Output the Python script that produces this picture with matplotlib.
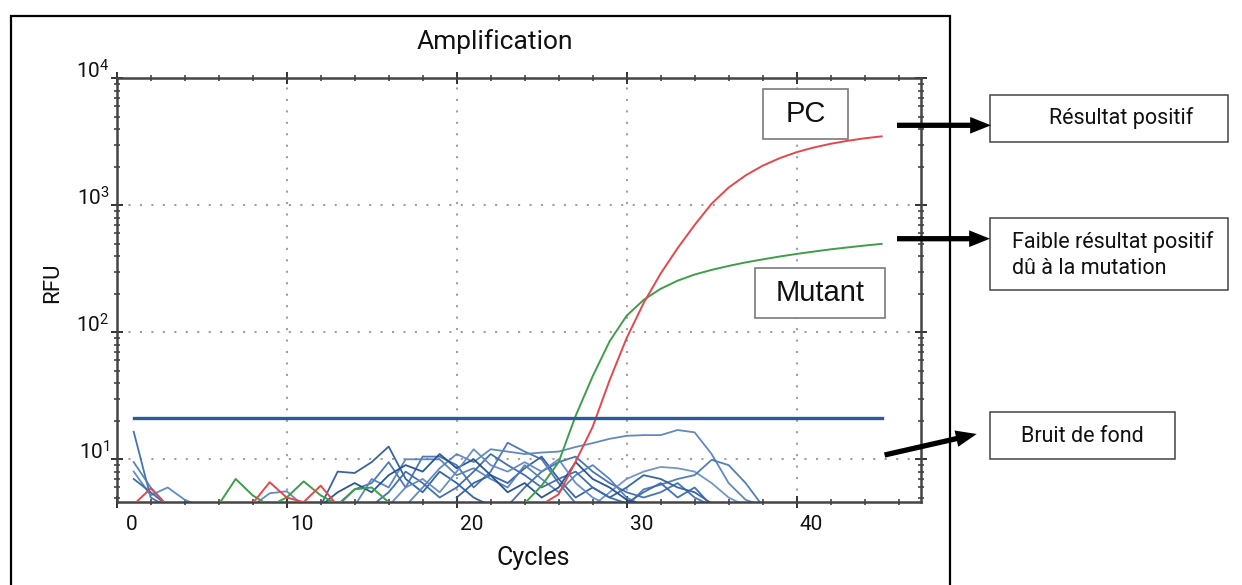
import matplotlib
matplotlib.use('Agg')
import matplotlib.pyplot as plt
from matplotlib.patches import Rectangle, FancyArrowPatch
from matplotlib.transforms import ScaledTranslation
from matplotlib.ticker import NullFormatter
import numpy as np

plt.rcParams['font.family'] = ['Roboto', 'DejaVu Sans']
plt.rcParams['text.color'] = '#111111'

# ---------------- data ----------------
cycles = list(range(1, 46))

pc_rfu = [4.4, 5.9, 4.3, 4.2, 4.2, 4.2, 4.2, 4.5, 6.6, 5.0,
          4.6, 6.2, 4.3, 4.2, 4.2, 4.2, 4.2, 4.2, 4.2, 4.2,
          4.2, 4.2, 4.2, 4.2, 4.4, 5.3, 9.6, 18, 42, 90,
          170, 290, 460, 700, 1030, 1380, 1720, 2050, 2350, 2620,
          2850, 3050, 3220, 3370, 3490]

mutant_rfu = [4.2, 4.2, 4.2, 4.2, 4.2, 4.4, 7.0, 5.2, 4.3, 5.0,
              6.7, 5.2, 4.4, 5.8, 6.0, 4.6, 4.2, 4.2, 4.2, 4.2,
              4.2, 4.2, 4.0, 4.5, 6.2, 9.5, 22, 45, 85, 135,
              180, 220, 255, 285, 310, 333, 355, 375, 395, 414,
              432, 450, 466, 482, 497]

threshold_rfu = 21.0
threshold_cycles = [1, 45]

# background noise traces: (first cycle, values)
noise_starts = [1, 1, 1, 1, 8, 12, 13, 17, 23, 28, 30, 20, 14, 15, 12, 16]
noise_values = [
    [16.5, 5.0, 4.2],
    [9.5, 6.0, 4.3, 4.2],
    [8.0, 5.2, 6.0, 4.8, 4.2],
    [7.0, 5.5, 4.3],
    [4.3, 5.4, 5.6, 4.3],
    [4.3, 8.0, 7.8, 9.5, 12.6, 7.0, 5.5, 8.0, 6.5, 5.0, 4.3],
    [4.3, 5.8, 6.5, 9.5, 6.0, 10.5, 10.5, 9.0, 6.0, 8.0, 13.5, 11.5, 10.0, 6.5, 4.5],
    [4.3, 6.0, 8.5, 11.0, 9.5, 12.0, 11.5, 11.0, 11.3, 11.5, 12.5, 13.4, 14.5, 15.3,
     15.5, 15.5, 17.0, 16.3, 11.0, 6.5, 4.8, 4.3],
    [4.3, 6.0, 8.0, 9.5, 10.5, 8.0, 6.5, 5.5, 5.0, 5.5, 6.5, 5.0, 4.3],
    [4.3, 5.5, 7.0, 8.0, 8.7, 8.5, 8.0, 6.5, 5.0, 4.3],
    [4.3, 5.8, 6.3, 7.0, 7.5, 9.9, 9.0, 6.5, 4.3],
    [5.0, 6.5, 7.5, 6.5, 8.5, 10.5, 7.0, 5.0, 6.0, 5.0, 6.0, 7.5, 7.0, 6.0, 5.5, 4.5],
    [4.3, 7.0, 6.0, 10.0, 10.0, 10.0, 7.5, 8.5, 7.0, 6.0, 9.0, 7.0, 5.5, 7.5, 9.0,
     7.0, 5.0, 4.3],
    [4.3, 5.5, 8.0, 6.5, 5.0, 6.0, 8.0, 11.0, 9.0, 7.5, 6.0, 7.0, 8.0, 6.0, 5.0,
     4.5, 5.5, 6.5, 5.0, 6.0, 4.3],
    [4.3, 5.5, 6.5, 5.5, 7.5, 9.0, 8.0, 11.0, 8.5, 10.0, 7.5, 5.5, 6.5, 5.0, 6.0,
     9.5, 7.0, 6.0, 4.8, 4.3],
    [4.3, 6.0, 7.0, 5.5, 8.0, 12.0, 9.0, 8.0, 9.5, 8.0, 10.0, 6.5, 5.0, 4.3],
]
noise_colors = ['#3c6cae', '#4f7dbb', '#5a86c0', '#3a68a8', '#5b86c0',
                '#2d5c9c', '#4573b2', '#5a83bb', '#3e6daf', '#6a90c6',
                '#4a78b6', '#2f5e9e', '#5580bb', '#3b69aa', '#1f4f8f', '#6189c2']

x_major = [0, 10, 20, 30, 40]
y_major = [10, 100, 1000, 10000]
y_labels = [r'$\mathregular{10^{1}}$', r'$\mathregular{10^{2}}$',
            r'$\mathregular{10^{3}}$', r'$\mathregular{10^{4}}$']

# ---------------- figure ----------------
W, H = 1242, 585
fig = plt.figure(figsize=(W / 100, H / 100), dpi=100)
ax = fig.add_axes([116.7 / W, 82.7 / H, 804 / W, 424 / H])

for s, vals, col in zip(noise_starts, noise_values, noise_colors):
    xs = list(range(s, s + len(vals)))
    ax.plot(xs, vals, color=col, lw=1.3, alpha=0.95, zorder=2)

ax.plot(cycles, mutant_rfu, color='#3e9e4a', lw=1.4, zorder=3)
ax.plot(cycles, pc_rfu, color='#e5474d', lw=1.4, zorder=3)
ax.plot(threshold_cycles, [threshold_rfu, threshold_rfu], color='#2a5b9c', lw=2.4, zorder=4)

ax.set_yscale('log')
ax.set_xlim(0, 47.3)
ax.set_ylim(4.585, 1e4)
ax.set_xticks(x_major)
ax.set_xticks(np.arange(0, 47, 2), minor=True)
ax.set_yticks(y_major)
ax.set_yticklabels(y_labels)
ax.yaxis.set_minor_formatter(NullFormatter())

ax.grid(which='major', linestyle=(0, (1, 4.5)), color='#a0a0a0', lw=1.5)
for sp in ax.spines.values():
    sp.set_color('#444444')
    sp.set_linewidth(1.8)

ax.tick_params(axis='both', which='major', direction='inout', length=9, width=1.4,
               color='#333333', labelsize=15, labelcolor='#111111', top=True, right=True)
ax.tick_params(axis='both', which='minor', direction='inout', length=5, width=1.1,
               color='#333333', top=True, right=True)
ax.tick_params(axis='x', which='major', pad=5)
ax.tick_params(axis='y', which='major', pad=0.5)

offset = ScaledTranslation(0.15, 0, fig.dpi_scale_trans)
for lab in ax.get_xticklabels():
    lab.set_transform(lab.get_transform() + offset)
for lab in ax.get_yticklabels():
    lab.set_verticalalignment('baseline')

# labels inside the plot
def axbox(x0, x1, y0, y1, text):
    ax.add_patch(Rectangle((x0, y0), x1 - x0, y1 - y0, transform=ax.transAxes,
                           fill=True, facecolor='white', edgecolor='#7a7a7a', lw=1.2, zorder=5))
    ax.text((x0 + x1) / 2, (y0 + y1) / 2, text, transform=ax.transAxes, ha='center',
            va='center', fontsize=21, family=['Liberation Sans'],
            color='#111111', zorder=6)

axbox(0.8038, 0.9096, 0.8568, 0.9748, 'PC')
axbox(0.7939, 0.9556, 0.4340, 0.5519, 'Mutant')

# titles
fig.text(494.5 / W, (H - 49.3) / H, 'Amplification', ha='center', va='baseline', fontsize=19)
fig.text(533.5 / W, (H - 565) / H, 'Cycles', ha='center', va='baseline', fontsize=18)
fig.text(52.5 / W, (H - 283) / H, 'RFU', ha='center', va='center', rotation=90, fontsize=16)

# outer frame
fig.patches.append(Rectangle((10.7 / W, -0.05), (950 - 10.7) / W, (H - 16) / H + 0.05,
                             transform=fig.transFigure, fill=False, edgecolor='black', lw=1.6))

# right-hand boxes
def figbox(x0, x1, ytop, ybot):
    fig.patches.append(Rectangle((x0 / W, (H - ybot) / H), (x1 - x0) / W, (ybot - ytop) / H,
                                 transform=fig.transFigure, fill=False, edgecolor='#444444', lw=1.1))

figbox(990, 1228, 95, 142)
fig.text(1121 / W, (H - 118) / H, 'Résultat positif', ha='center', va='center', fontsize=15.5)
figbox(990, 1228, 217.7, 290)
fig.text(1011.7 / W, (H - 241.7) / H, 'Faible résultat positif', ha='left', va='center', fontsize=15.5)
fig.text(1011.7 / W, (H - 268.3) / H, 'dû à la mutation', ha='left', va='center', fontsize=15.5)
figbox(990, 1174.5, 411.7, 459)
fig.text(1082 / W, (H - 436.7) / H, 'Bruit de fond', ha='center', va='center', fontsize=15.5)

# arrows
def arrow(x0, y0, x1, y1):
    fig.patches.append(FancyArrowPatch((x0 / W, (H - y0) / H), (x1 / W, (H - y1) / H),
                                       transform=fig.transFigure,
                                       arrowstyle='simple,head_length=15,head_width=12,tail_width=3.8',
                                       mutation_scale=1, color='black', lw=0,
                                       shrinkA=0, shrinkB=0))

arrow(897, 125.3, 991, 125.3)
arrow(897, 238.7, 990, 238.7)
arrow(884.6, 455, 976.7, 434)

fig.savefig('out.png', dpi=100)
